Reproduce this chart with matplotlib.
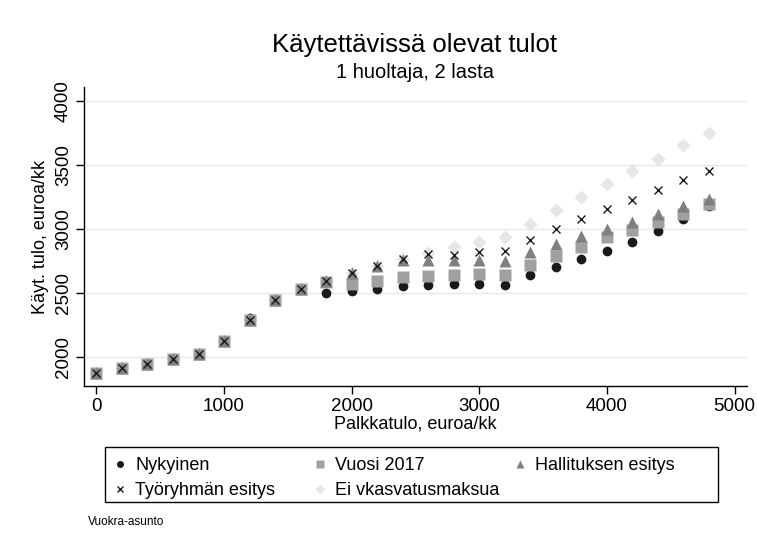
import numpy as np
import matplotlib
matplotlib.use('Agg')
import matplotlib.pyplot as plt
from matplotlib.patches import Rectangle

plt.rcParams['font.family'] = ['Liberation Sans', 'DejaVu Sans']

# Palkkatulo, euroa/kk
palkka = [0, 200, 400, 600, 800, 1000, 1200, 1400, 1600, 1800, 2000, 2200, 2400,
          2600, 2800, 3000, 3200, 3400, 3600, 3800, 4000, 4200, 4400, 4600, 4800]

nykyinen = [1872, 1911, 1947, 1987, 2021, 2125, 2305, 2445, 2530, 2500, 2515, 2533, 2551,
            2562, 2570, 2573, 2562, 2640, 2701, 2763, 2831, 2902, 2988, 3080, 3176]
vuosi2017 = [1872, 1911, 1947, 1987, 2021, 2125, 2288, 2445, 2530, 2588, 2570, 2596, 2622,
             2635, 2643, 2651, 2643, 2719, 2792, 2858, 2936, 2994, 3054, 3119, 3197]
hallitus = [1872, 1911, 1947, 1987, 2021, 2125, 2288, 2445, 2530, 2590, 2655, 2708, 2758,
            2758, 2758, 2758, 2753, 2818, 2884, 2949, 3001, 3054, 3119, 3176, 3231]
tyoryhma = [1872, 1911, 1947, 1987, 2021, 2125, 2288, 2445, 2530, 2590, 2653, 2708, 2766,
            2805, 2800, 2818, 2831, 2915, 2996, 3080, 3153, 3229, 3307, 3380, 3453]
ei_vkasvatus = [1872, 1911, 1947, 1987, 2021, 2125, 2288, 2445, 2530, 2590, 2653, 2708, 2766,
                2810, 2858, 2902, 2936, 3041, 3150, 3250, 3349, 3451, 3550, 3655, 3754]

fig = plt.figure(figsize=(7.57, 5.51), dpi=100)
ax = fig.add_axes([0.1115, 0.2995, 0.875, 0.542])

# piirtojarjestys: vaalein alimmaksi
h_ei, = ax.plot(palkka, ei_vkasvatus, 'D', color='#e6e6e6', ms=7, mec='none', zorder=2)
h_nyk, = ax.plot(palkka, nykyinen, 'o', color='#1a1a1a', ms=7, mec='none', zorder=3)
h_vuo, = ax.plot(palkka, vuosi2017, 's', color='#a0a0a0', ms=8, mec='none', zorder=4)
h_hal, = ax.plot(palkka, hallitus, '^', color='#808080', ms=8.5, mec='none', zorder=5)
h_tyo, = ax.plot(palkka, tyoryhma, 'x', color='#1a1a1a', ms=5.5, mew=1.0, zorder=6)

ax.set_xlim(-94, 5096)
ax.set_ylim(1773, 4107)
ax.set_xticks([0, 1000, 2000, 3000, 4000, 5000])
ax.set_yticks([2000, 2500, 3000, 3500, 4000])
ax.grid(axis='y', color='#e8e8e8', lw=1)
ax.set_axisbelow(True)
for s in ['top', 'right']:
    ax.spines[s].set_visible(False)
for s in ['left', 'bottom']:
    ax.spines[s].set_linewidth(1.0)
ax.tick_params(axis='both', direction='out', length=6, width=1, labelsize=13.5, pad=3)
plt.setp(ax.get_yticklabels(), rotation=90, va='center')

ax.set_xlabel('Palkkatulo, euroa/kk', fontsize=13, labelpad=0)
ax.set_ylabel('Käyt. tulo, euroa/kk', fontsize=13, labelpad=4)

fig.text(0.548, 0.918, 'Käytettävissä olevat tulot', ha='center', va='center', fontsize=18.5)
fig.text(0.548, 0.868, '1 huoltaja, 2 lasta', ha='center', va='center', fontsize=14.5)

# selite: kolme saraketta rivi kerrallaan, kehys erikseen
sarakkeet = [([h_nyk, h_tyo], ['Nykyinen', 'Työryhmän esitys']),
             ([h_vuo, h_ei], ['Vuosi 2017', 'Ei vkasvatusmaksua']),
             ([h_hal], ['Hallituksen esitys'])]
for i, (kahvat, nimet) in enumerate(sarakkeet):
    x0 = (113.5 + 200 * i) / 757
    fig.legend(kahvat, nimet, loc='upper left', bbox_to_anchor=(x0, 1 - 457 / 551),
               fontsize=13, frameon=False, handlelength=0.75, handletextpad=0.45,
               borderpad=0, borderaxespad=0, labelspacing=0.45, markerscale=0.72)
fig.patches.append(Rectangle((105 / 757, 1 - 502 / 551), 613 / 757, 55 / 551,
                             transform=fig.transFigure, fill=False, ec='black', lw=1.0))

fig.text(0.116, 0.052, 'Vuokra-asunto', ha='left', va='center', fontsize=8.5)

fig.savefig('out.png', dpi=100)
